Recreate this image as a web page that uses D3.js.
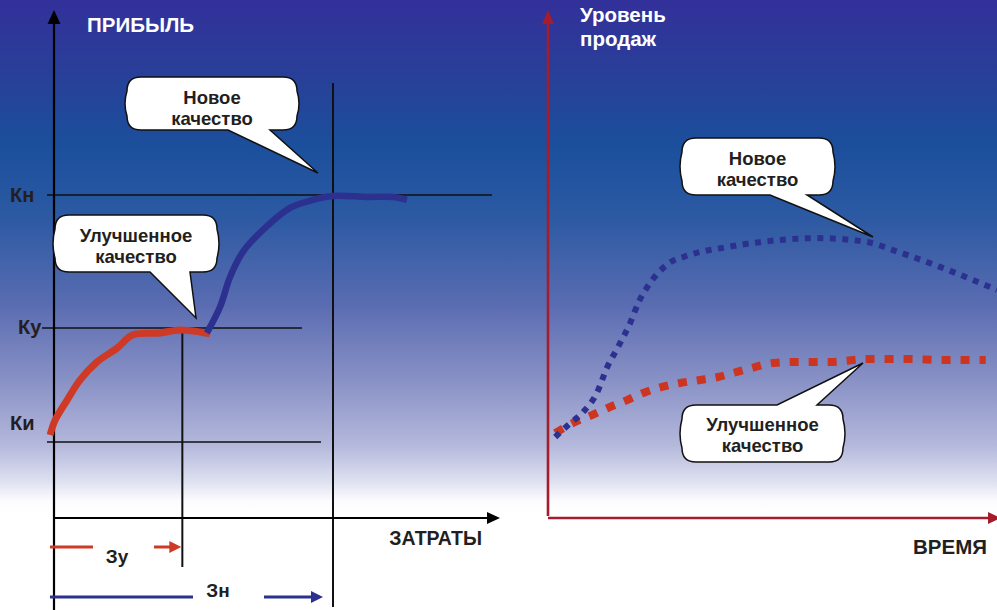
<!DOCTYPE html>
<html>
<head>
<meta charset="utf-8">
<script src="https://cdn.jsdelivr.net/npm/d3@7"></script>
<style>
  html, body { margin: 0; padding: 0; background: #fff; }
  svg { display: block; }
  text { font-family: "Liberation Sans", Arial, sans-serif; font-weight: bold; }
</style>
</head>
<body>
<svg id="chart" width="997" height="610"></svg>
<script>
// ---- Left panel: profit vs. costs ----
const levelNames = ["Ки", "Ку", "Кн"];
const levelValues = [23.5, 58.8, 100];          // profit levels
const costNames = ["Зу", "Зн"];
const costValues = [46, 100];                    // cost of improved / new quality

// improved quality: profit growth with costs
const improvedCost   = [-1.4, 0.4, 4.7, 9.3, 15.4, 22.6, 28.3, 38.0, 45.2, 52.3, 55.9];
const improvedProfit = [25.7, 30.3, 36.5, 42.7, 48.3, 52.6, 56.7, 57.3, 58.2, 57.6, 57.0];
// new quality: profit growth with costs
const newCost   = [54.8, 59.5, 63.1, 67.7, 74.9, 84.6, 92.8, 100, 112.2, 121.5, 126.5];
const newProfit = [57.3, 65.3, 74.6, 82.4, 89.2, 96.0, 98.5, 99.7, 99.4, 99.4, 98.5];

// ---- Right panel: sales level over time ----
const salesNewTime  = [1.6, 4.5, 7.8, 10.9, 13.1, 15.6, 18.3, 20.3, 22.9, 26.7, 31.6, 39.9, 51.7, 59.9, 71, 76.8, 87.3, 100];
const salesNewLevel = [27, 31, 35.3, 41.7, 50, 57, 65, 72.3, 78.7, 84.7, 87.7, 90.3, 92.7, 93.3, 92, 89.3, 83.7, 76];
const salesImpTime  = [1.6, 5.6, 9.8, 13.8, 17.6, 21.2, 25.4, 29.4, 33.9, 37.9, 42.1, 46.1, 50.1, 54.6, 62.8, 71.3, 80, 88, 97.5];
const salesImpLevel = [28.3, 31.7, 34.3, 37, 39.3, 41.7, 43.7, 45, 46, 47, 48.7, 50.3, 51.7, 52, 52, 53, 53, 52.7, 52.7];

const labels = {
  profit: "ПРИБЫЛЬ",
  costs: "ЗАТРАТЫ",
  sales: ["Уровень", "продаж"],
  time: "ВРЕМЯ",
  newQ: ["Новое", "качество"],
  impQ: ["Улучшенное", "качество"]
};

const svg = d3.select("#chart");
const W = 997, H = 610;
const INK = "#231f20", RED = "#cf3a26", BLUE = "#2c3190", AXRED = "#a51c2c";

// background gradient
const defs = svg.append("defs");
const grad = defs.append("linearGradient").attr("id", "bg")
  .attr("x1", 0).attr("y1", 0).attr("x2", 0).attr("y2", 1);
[[0, "#33309a"], [0.12, "#283f98"], [0.24, "#1b4f9c"], [0.36, "#2d5aa3"],
 [0.5, "#5a6cb1"], [0.62, "#8790c5"], [0.73, "#b4b8db"], [0.79, "#dfe1f0"],
 [0.82, "#fbfbfd"], [0.84, "#ffffff"], [1, "#ffffff"]]
  .forEach(([o, c]) => grad.append("stop").attr("offset", o).attr("stop-color", c));
svg.append("rect").attr("width", W).attr("height", H).attr("fill", "url(#bg)");

// ================= LEFT PANEL =================
const xL = d3.scaleLinear().domain([0, 100]).range([54, 333]);
const yL = d3.scaleLinear().domain([0, 100]).range([518, 195]);

const gL = svg.append("g");

// horizontal profit level lines (Ки, Ку, Кн)
const levelExtents = [[-2.5, 95.7], [-4.3, 88.9], [-2.5, 157]];
levelValues.forEach((v, i) => {
  gL.append("line")
    .attr("x1", xL(levelExtents[i][0])).attr("x2", xL(levelExtents[i][1]))
    .attr("y1", yL(v)).attr("y2", yL(v))
    .attr("stroke", "#111").attr("stroke-width", 1.5);
});
// level labels
const levelLabelX = [10, 18, 10];
const levelLabelDy = [-12, 6, 7];
levelValues.forEach((v, i) => {
  gL.append("text").attr("x", levelLabelX[i]).attr("y", yL(v) + levelLabelDy[i])
    .attr("font-size", 20).attr("fill", INK).text(levelNames[i]);
});

// vertical cost lines
gL.append("line").attr("x1", xL(costValues[0])).attr("x2", xL(costValues[0]))
  .attr("y1", yL(levelValues[1])).attr("y2", 567).attr("stroke", "#111").attr("stroke-width", 2);
gL.append("line").attr("x1", xL(costValues[1])).attr("x2", xL(costValues[1]))
  .attr("y1", 83).attr("y2", 607).attr("stroke", "#111").attr("stroke-width", 2);

// axes with arrow heads
gL.append("line").attr("x1", xL(0)).attr("x2", xL(0)).attr("y1", 20).attr("y2", 610)
  .attr("stroke", "#000").attr("stroke-width", 2.2);
gL.append("path").attr("d", `M${xL(0) - 6.5},24 L${xL(0)},10 L${xL(0) + 6.5},24 Z`).attr("fill", "#000");
gL.append("line").attr("x1", xL(0)).attr("x2", 490).attr("y1", yL(0)).attr("y2", yL(0))
  .attr("stroke", "#000").attr("stroke-width", 2.2);
gL.append("path").attr("d", `M487,${yL(0) - 6} L500,${yL(0)} L487,${yL(0) + 6} Z`).attr("fill", "#000");

gL.append("text").attr("x", 87).attr("y", 32).attr("font-size", 20.5).attr("fill", "#fff").text(labels.profit);
gL.append("text").attr("x", 482).attr("y", 545).attr("font-size", 19.5).attr("fill", INK)
  .attr("text-anchor", "end").text(labels.costs);

// curves
const lineL = d3.line().x(d => xL(d[0])).y(d => yL(d[1])).curve(d3.curveCatmullRom.alpha(0.5));
gL.append("path").datum(improvedCost.map((c, i) => [c, improvedProfit[i]]))
  .attr("d", lineL).attr("fill", "none").attr("stroke", RED).attr("stroke-width", 7)
  .attr("stroke-linecap", "butt").attr("stroke-linejoin", "round");
gL.append("path").datum(newCost.map((c, i) => [c, newProfit[i]]))
  .attr("d", lineL).attr("fill", "none").attr("stroke", BLUE).attr("stroke-width", 6.5)
  .attr("stroke-linecap", "butt").attr("stroke-linejoin", "round");

// cost span arrows below the axis
function spanArrow(g, x0, x1, y, gapStart, gapEnd, color) {
  g.append("line").attr("x1", x0).attr("x2", gapStart).attr("y1", y).attr("y2", y)
    .attr("stroke", color).attr("stroke-width", 3);
  g.append("line").attr("x1", gapEnd).attr("x2", x1 - 10).attr("y1", y).attr("y2", y)
    .attr("stroke", color).attr("stroke-width", 3);
  g.append("path").attr("d", `M${x1 - 12},${y - 6} L${x1},${y} L${x1 - 12},${y + 6} Z`).attr("fill", color);
}
spanArrow(gL, 50, xL(costValues[0]) - 1, 547, 93, 154, RED);
gL.append("text").attr("x", 117).attr("y", 563).attr("font-size", 19).attr("fill", INK)
  .attr("text-anchor", "middle").text(costNames[0]);
spanArrow(gL, 50, xL(costValues[1]) - 10, 597, 193, 264, BLUE);
gL.append("text").attr("x", 218).attr("y", 597).attr("font-size", 19).attr("fill", INK)
  .attr("text-anchor", "middle").text(costNames[1]);

// ================= RIGHT PANEL =================
const xR = d3.scaleLinear().domain([0, 100]).range([548, 997]);
const yR = d3.scaleLinear().domain([0, 100]).range([518, 218]);
const gR = svg.append("g");

gR.append("line").attr("x1", xR(0)).attr("x2", xR(0)).attr("y1", 20).attr("y2", 516)
  .attr("stroke", AXRED).attr("stroke-width", 2.6);
gR.append("path").attr("d", `M${xR(0) - 6},24 L${xR(0)},10 L${xR(0) + 6},24 Z`).attr("fill", AXRED);
gR.append("line").attr("x1", xR(0)).attr("x2", 990).attr("y1", yR(0)).attr("y2", yR(0))
  .attr("stroke", AXRED).attr("stroke-width", 2.6);
gR.append("path").attr("d", `M988,${yR(0) - 6} L1001,${yR(0)} L988,${yR(0) + 6} Z`).attr("fill", AXRED);

gR.append("text").attr("font-size", 20.5).attr("fill", "#fff")
  .selectAll("tspan").data(labels.sales).join("tspan")
  .attr("x", 580).attr("y", (d, i) => 22 + i * 24).text(d => d);
gR.append("text").attr("x", 987).attr("y", 554).attr("font-size", 20.5).attr("fill", INK)
  .attr("text-anchor", "end").text(labels.time);

const lineR = d3.line().x(d => xR(d[0])).y(d => yR(d[1])).curve(d3.curveMonotoneX);
gR.append("path").datum(salesImpTime.map((t, i) => [t, salesImpLevel[i]]))
  .attr("d", lineR).attr("fill", "none").attr("stroke", "#cd3523").attr("stroke-width", 8)
  .attr("stroke-dasharray", "9 10");
gR.append("path").datum(salesNewTime.map((t, i) => [t, salesNewLevel[i]]))
  .attr("d", lineR).attr("fill", "none").attr("stroke", BLUE).attr("stroke-width", 6)
  .attr("stroke-dasharray", "6 6.5");

// ================= CALLOUTS =================
function callout(g, box, tail, lines, textY) {
  const [x0, y0, x1, y1] = box;
  const r = 14, b = 4;
  const [b1, b2, tx, ty, side] = tail;
  const my = (y0 + y1) / 2;
  let d = `M${x0 + r},${y0}`;
  if (side === "top") d += ` L${b1},${y0} L${tx},${ty} L${b2},${y0}`;
  d += ` L${x1 - r},${y0} Q${x1},${y0} ${x1},${y0 + r}`;
  d += ` Q${x1 + b},${my} ${x1},${y1 - r} Q${x1},${y1} ${x1 - r},${y1}`;
  if (side === "bottom") d += ` L${b2},${y1} L${tx},${ty} L${b1},${y1}`;
  d += ` L${x0 + r},${y1} Q${x0},${y1} ${x0},${y1 - r}`;
  d += ` Q${x0 - b},${my} ${x0},${y0 + r} Q${x0},${y0} ${x0 + r},${y0} Z`;
  g.append("path").attr("d", d).attr("fill", "#fff").attr("stroke", "#111").attr("stroke-width", 1.5)
    .attr("stroke-linejoin", "miter");
  const cx = (x0 + x1) / 2;
  g.append("text").attr("font-size", 18.5).attr("fill", INK).attr("text-anchor", "middle")
    .selectAll("tspan").data(lines).join("tspan")
    .attr("x", cx).attr("y", (d, i) => textY + i * 21).text(d => d);
}
callout(svg, [127, 77, 297, 130], [228, 270, 318, 173, "bottom"], labels.newQ, 104);
callout(svg, [55, 215, 217, 272], [150, 190, 196, 318, "bottom"], labels.impQ, 242);
callout(svg, [682, 138, 833, 195], [770, 807, 873, 237, "bottom"], labels.newQ, 165);
callout(svg, [682, 405, 843, 462], [777, 817, 863, 363, "top"], labels.impQ, 431);
</script>
</body>
</html>
